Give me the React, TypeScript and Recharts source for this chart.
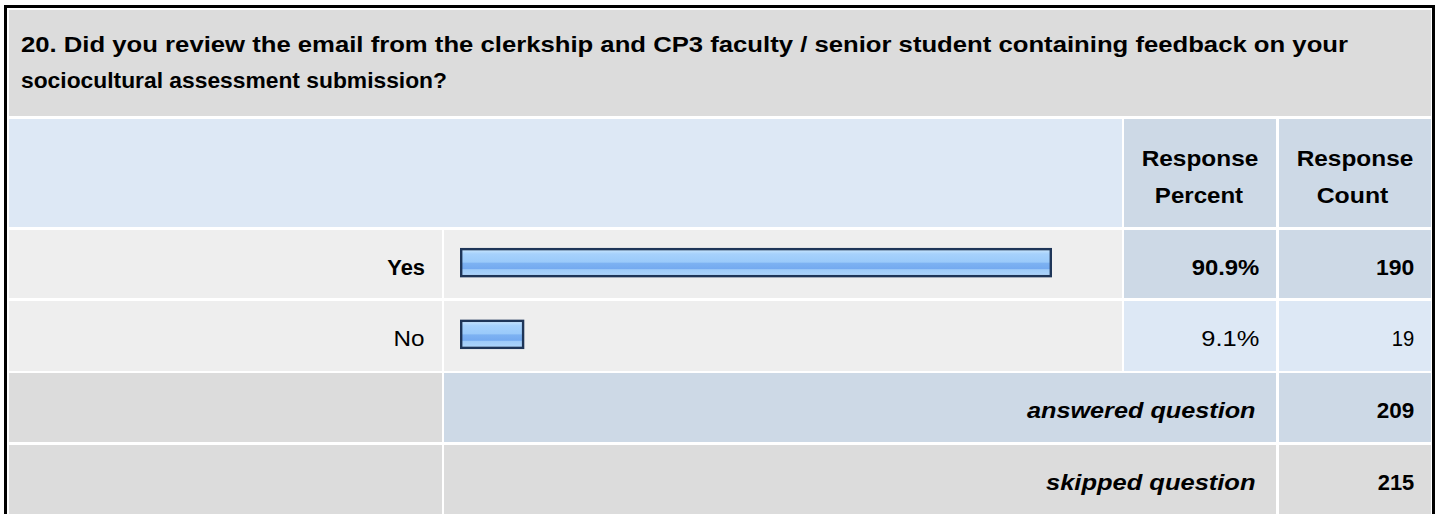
import { Bar, BarChart, XAxis, YAxis } from "recharts";

// survey question 20 — response summary
const questionLines = [
  "20. Did you review the email from the clerkship and CP3 faculty / senior student containing feedback on your",
  "sociocultural assessment submission?",
];
const answerLabels = ["Yes", "No"];
const responsePercent = [90.9, 9.1];
const responseCount = [190, 19];
const summaryLabels = ["answered question", "skipped question"];
const summaryCounts = [209, 215];

const FONT = "Arial, 'Liberation Sans', Helvetica, sans-serif";

const GREY = "#dcdcdc";
const ROW = "#eeeeee";
const BLUE = "#dde8f5";
const BLUE_DK = "#cdd9e6";

// column edges
const C = [9, 442, 444, 1122, 1124, 1276, 1279, 1431];

const chartData = answerLabels.map((name, i) => ({
  name,
  percent: responsePercent[i],
}));

// bar with the extra bevel width the survey tool draws past the value
function BevelBar(props: any) {
  const { x, y, width, height } = props;
  return (
    <rect
      x={x}
      y={y}
      width={width + 3.2}
      height={height}
      fill="url(#barGrad)"
      stroke="#1e3558"
      strokeWidth={2.4}
    />
  );
}

function Cell({ x0, x1, y0, y1, bg }: { x0: number; x1: number; y0: number; y1: number; bg: string }) {
  return (
    <div
      style={{
        position: "absolute",
        left: x0,
        top: y0,
        width: x1 - x0,
        height: y1 - y0,
        background: bg,
      }}
    />
  );
}

function Txt({
  x,
  y,
  w,
  anchor = "end",
  bold = true,
  italic = false,
  children,
}: {
  x: number;
  y: number;
  w: number;
  anchor?: "start" | "middle" | "end";
  bold?: boolean;
  italic?: boolean;
  children: string;
}) {
  return (
    <text
      x={x}
      y={y}
      textLength={w}
      lengthAdjust="spacingAndGlyphs"
      textAnchor={anchor}
      fontFamily={FONT}
      fontSize={22}
      fontWeight={bold ? 700 : 400}
      fontStyle={italic ? "italic" : "normal"}
      fill="#000"
    >
      {children}
    </text>
  );
}

export default function App() {
  const rows = [
    { y0: 229.5, y1: 298.3, pct: BLUE_DK },
    { y0: 300.7, y1: 371, pct: BLUE },
  ];
  return (
    <div
      style={{
        position: "absolute",
        left: 0,
        top: 0,
        width: 1440,
        height: 514,
        overflow: "hidden",
        background: "#fff",
      }}
    >
      <svg width={0} height={0} style={{ position: "absolute" }}>
        <defs>
          <linearGradient id="barGrad" x1="0" y1="0" x2="0" y2="1">
            <stop offset="0%" stopColor="#d4ebff" />
            <stop offset="10%" stopColor="#b6dbfd" />
            <stop offset="18%" stopColor="#a6d1fc" />
            <stop offset="48%" stopColor="#9acafa" />
            <stop offset="52%" stopColor="#7db2f2" />
            <stop offset="72%" stopColor="#74aaf0" />
            <stop offset="76%" stopColor="#9fcbf8" />
            <stop offset="92%" stopColor="#a9d2fa" />
            <stop offset="100%" stopColor="#c4e2fd" />
          </linearGradient>
        </defs>
      </svg>

      {/* outer frame */}
      <div
        style={{
          position: "absolute",
          left: 4,
          top: 5,
          width: 1431,
          height: 600,
          border: "3px solid #000",
          boxSizing: "border-box",
        }}
      />

      {/* title row */}
      <Cell x0={C[0]} x1={C[7]} y0={10} y1={116} bg={GREY} />
      {/* column header row */}
      <Cell x0={C[0]} x1={C[3]} y0={118.5} y1={227} bg={BLUE} />
      <Cell x0={C[4]} x1={C[5]} y0={118.5} y1={227} bg={BLUE_DK} />
      <Cell x0={C[6]} x1={C[7]} y0={118.5} y1={227} bg={BLUE_DK} />
      {/* answer rows */}
      {rows.map((r, i) => (
        <div key={i}>
          <Cell x0={C[0]} x1={C[1]} y0={r.y0} y1={r.y1} bg={ROW} />
          <Cell x0={C[2]} x1={C[3]} y0={r.y0} y1={r.y1} bg={ROW} />
          <Cell x0={C[4]} x1={C[5]} y0={r.y0} y1={r.y1} bg={r.pct} />
          <Cell x0={C[6]} x1={C[7]} y0={r.y0} y1={r.y1} bg={r.pct} />
        </div>
      ))}
      {/* summary rows */}
      <Cell x0={C[0]} x1={C[1]} y0={373.3} y1={442.3} bg={GREY} />
      <Cell x0={C[2]} x1={C[5]} y0={373.3} y1={442.3} bg={BLUE_DK} />
      <Cell x0={C[6]} x1={C[7]} y0={373.3} y1={442.3} bg={BLUE_DK} />
      <Cell x0={C[0]} x1={C[1]} y0={445} y1={530} bg={GREY} />
      <Cell x0={C[2]} x1={C[5]} y0={445} y1={530} bg={GREY} />
      <Cell x0={C[6]} x1={C[7]} y0={445} y1={530} bg={GREY} />

      <div style={{ position: "absolute", left: 0, top: 0 }}>
        <BarChart
          width={1440}
          height={514}
          layout="vertical"
          data={chartData}
          margin={{ top: 227.15, right: 333.7, bottom: 143.45, left: 461.2 }}
        >
          <XAxis type="number" domain={[0, 100]} hide />
          <YAxis type="category" dataKey="name" hide />
          <Bar
            dataKey="percent"
            barSize={27}
            shape={<BevelBar />}
            isAnimationActive={false}
          />
        </BarChart>
      </div>

      <svg
        width={1440}
        height={514}
        style={{ position: "absolute", left: 0, top: 0, pointerEvents: "none" }}
      >
        <Txt x={21} y={52} w={1327} anchor="start">{questionLines[0]}</Txt>
        <Txt x={21} y={88} w={426} anchor="start">{questionLines[1]}</Txt>

        <Txt x={1200} y={166} w={116.6} anchor="middle">Response</Txt>
        <Txt x={1199} y={203} w={88.3} anchor="middle">Percent</Txt>
        <Txt x={1355} y={166} w={116.6} anchor="middle">Response</Txt>
        <Txt x={1352.5} y={203} w={71.6} anchor="middle">Count</Txt>

        <Txt x={425} y={275} w={37.7}>{answerLabels[0]}</Txt>
        <Txt x={1259.3} y={275} w={67.6}>{`${responsePercent[0].toFixed(1)}%`}</Txt>
        <Txt x={1414.3} y={275} w={38.3}>{String(responseCount[0])}</Txt>

        <Txt x={424.5} y={346} w={31} bold={false}>{answerLabels[1]}</Txt>
        <Txt x={1259.3} y={346} w={58} bold={false}>{`${responsePercent[1].toFixed(1)}%`}</Txt>
        <Txt x={1414.3} y={346} w={22.5} bold={false}>{String(responseCount[1])}</Txt>

        <Txt x={1255.5} y={418} w={228.5} italic>{summaryLabels[0]}</Txt>
        <Txt x={1414.3} y={418} w={37.5}>{String(summaryCounts[0])}</Txt>
        <Txt x={1255.5} y={490} w={209.5} italic>{summaryLabels[1]}</Txt>
        <Txt x={1414.3} y={490} w={36.5}>{String(summaryCounts[1])}</Txt>
      </svg>
    </div>
  );
}
